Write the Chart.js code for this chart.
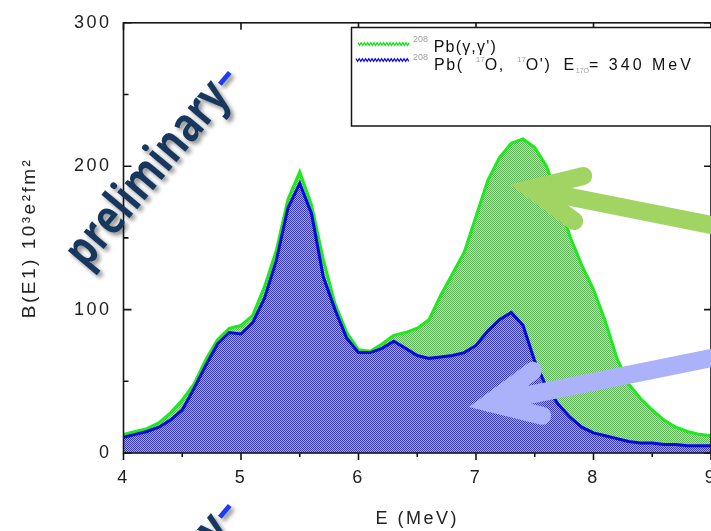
<!DOCTYPE html>
<html>
<head>
<meta charset="utf-8">
<script src="https://cdn.jsdelivr.net/npm/chart.js@4.4.1/dist/chart.umd.min.js"></script>
<style>
  html, body { margin: 0; padding: 0; background: #fff; overflow: hidden; }
  #wrap { width: 730px; height: 531px; }
</style>
</head>
<body>
<div id="wrap"><canvas id="strength"></canvas></div>
<script>
// excitation energy, MeV
var energies = [4.0, 4.1, 4.2, 4.3, 4.4, 4.5, 4.6, 4.7, 4.8, 4.9,
                5.0, 5.1, 5.2, 5.3, 5.4, 5.5, 5.6, 5.7, 5.8, 5.9,
                6.0, 6.1, 6.2, 6.3, 6.4, 6.5, 6.6, 6.7, 6.8, 6.9,
                7.0, 7.1, 7.2, 7.3, 7.4, 7.5, 7.6, 7.7, 7.8, 7.9,
                8.0, 8.1, 8.2, 8.3, 8.4, 8.5, 8.6, 8.7, 8.8, 8.9,
                9.0];
// B(E1), 10^3 e^2 fm^2 -- 208Pb(g,g')
var photonStrength = [13, 15, 17, 21, 28, 37, 48, 65, 79, 87,
                      89, 96, 116, 141, 177, 196, 173, 135, 104, 84,
                      72, 71, 76, 82, 84, 87, 93, 110, 125, 140,
                      165, 190, 206, 216, 219, 213, 200, 177, 151, 131,
                      114, 92, 66, 48, 38, 30, 23, 18, 15, 13,
                      12];
// B(E1), 10^3 e^2 fm^2 -- 208Pb(17O,17O') at 340 MeV
var oxygenStrength = [11, 13, 15, 18, 23, 30, 45, 61, 76, 84,
                      83, 91, 108, 134, 171, 188, 167, 123, 100, 80,
                      70, 70, 73, 78, 73, 68, 66, 67, 68, 70,
                      75, 85, 93, 98, 89, 64, 46, 34, 25, 18,
                      14, 12, 10, 8, 7, 7, 6, 6, 5, 5,
                      5];
var xTicks = [4, 5, 6, 7, 8, 9];
var xMinor = [4.5, 5.5, 6.5, 7.5, 8.5];
var yTicks = [0, 100, 200, 300];
var yMinor = [50, 150, 250];

var FONT = '"Liberation Sans", Arial, sans-serif';

function pairs(values) {
  return energies.map(function (e, i) { return { x: e, y: values[i] }; });
}

// 2x2 checker, the hatched fill of the original plot
function checker(dark, light) {
  var c = document.createElement('canvas');
  c.width = 2; c.height = 2;
  var g = c.getContext('2d');
  g.fillStyle = light; g.fillRect(0, 0, 2, 2);
  g.fillStyle = dark; g.fillRect(0, 0, 1, 1); g.fillRect(1, 1, 1, 1);
  return g.createPattern(c, 'repeat');
}

function drawRich(ctx, x, y, parts) {
  parts.forEach(function (p) {
    ctx.font = p.font;
    ctx.fillStyle = p.color;
    ctx.letterSpacing = p.ls || '0px';
    ctx.fillText(p.t, x, y + (p.dy || 0));
    x += ctx.measureText(p.t).width;
  });
}

function zigzag(ctx, x0, x1, y, color) {
  ctx.beginPath();
  for (var x = x0, k = 0; x <= x1; x += 1.6, k++) ctx.lineTo(x, y + (k % 2 ? 1.3 : -1.3));
  ctx.strokeStyle = color;
  ctx.lineWidth = 1.3;
  ctx.stroke();
}

function arrow(ctx, tipX, tipY, angle, color) {
  var w = 18, spread = 0.44, arm = 54;
  var back = (w / 2) / Math.sin(spread);
  var vx = tipX + Math.cos(angle) * back, vy = tipY + Math.sin(angle) * back;
  ctx.save();
  ctx.strokeStyle = color;
  ctx.lineWidth = w;
  ctx.lineCap = 'round';
  ctx.beginPath();
  ctx.moveTo(vx, vy);
  ctx.lineTo(vx + Math.cos(angle) * 400, vy + Math.sin(angle) * 400);
  ctx.stroke();
  ctx.lineJoin = 'miter';
  ctx.beginPath();
  ctx.moveTo(vx + Math.cos(angle - spread) * arm, vy + Math.sin(angle - spread) * arm);
  ctx.lineTo(vx, vy);
  ctx.lineTo(vx + Math.cos(angle + spread) * arm, vy + Math.sin(angle + spread) * arm);
  ctx.stroke();
  ctx.restore();
}

// rotated "preliminary-" watermark with a soft drop shadow
function stamp(ctx, x, y) {
  var squeeze = 0.8;
  ctx.save();
  ctx.translate(x, y);
  ctx.rotate(-50 * Math.PI / 180);
  ctx.scale(squeeze, 1);
  ctx.letterSpacing = '0px';
  ctx.font = 'bold 10px "Open Sans", sans-serif';
  var size = 10 * (226 / squeeze) / ctx.measureText('preliminary').width;
  ctx.font = 'bold ' + size.toFixed(1) + 'px "Open Sans", sans-serif';
  ctx.shadowColor = 'rgba(0,0,0,0.45)';
  ctx.shadowOffsetX = 3;
  ctx.shadowOffsetY = 3;
  ctx.shadowBlur = 4;
  ctx.fillStyle = '#17375e';
  ctx.fillText('preliminary', 0, 0);
  var w = ctx.measureText('preliminary').width;
  // hyphen in bright blue
  ctx.fillStyle = '#1f3cf5';
  ctx.fillRect(w + 3, -0.4 * size, 0.4 * size, 0.1 * size);
  ctx.restore();
}

var frame = {
  id: 'frame',
  beforeDraw: function (chart) {
    chart.ctx.letterSpacing = '2.5px';
  },
  afterDatasetsDraw: function (chart) {
    var ctx = chart.ctx, a = chart.chartArea, xs = chart.scales.x, ys = chart.scales.y;
    ctx.save();
    ctx.strokeStyle = '#161616';
    ctx.lineWidth = 1.6;
    ctx.strokeRect(a.left, a.top, a.right - a.left, a.bottom - a.top);
    ctx.beginPath();
    xTicks.forEach(function (v) {
      var px = xs.getPixelForValue(v);
      ctx.moveTo(px, a.bottom); ctx.lineTo(px, a.bottom + 7);
      ctx.moveTo(px, a.top); ctx.lineTo(px, a.top + 7);
    });
    xMinor.forEach(function (v) {
      var px = xs.getPixelForValue(v);
      ctx.moveTo(px, a.bottom); ctx.lineTo(px, a.bottom + 4);
    });
    yTicks.forEach(function (v) {
      var py = ys.getPixelForValue(v);
      ctx.moveTo(a.left, py); ctx.lineTo(a.left + 8, py);
      ctx.moveTo(a.right, py); ctx.lineTo(a.right - 7, py);
    });
    yMinor.forEach(function (v) {
      var py = ys.getPixelForValue(v);
      ctx.moveTo(a.left, py); ctx.lineTo(a.left + 5, py);
    });
    ctx.stroke();

    // arrows pointing at the two distributions
    arrow(ctx, xs.getPixelForValue(7.29), ys.getPixelForValue(187), 0.197, '#a1d463');
    arrow(ctx, xs.getPixelForValue(6.94), ys.getPixelForValue(32), -0.2, '#abb2fa');

    // legend box
    ctx.lineWidth = 1.5;
    ctx.fillStyle = '#fff';
    ctx.fillRect(351.5, 27.5, 400, 98.5);
    ctx.strokeRect(351.5, 27.5, 400, 98.5);
    zigzag(ctx, 358, 410, 44, '#10e010');
    zigzag(ctx, 356, 410, 60, '#1010d0');
    var main = '16px ' + FONT, sup = '9px ' + FONT, grey = '#a0a0a0';
    drawRich(ctx, 413, 52, [
      { t: '208', font: sup, color: grey, dy: -10 },
      { t: ' Pb(\u03b3,\u03b3\')', font: main, color: '#111', ls: '1.2px' }
    ]);
    drawRich(ctx, 413, 70, [
      { t: '208', font: sup, color: grey, dy: -10 },
      { t: ' Pb(  ', font: main, color: '#111', ls: '1.6px' },
      { t: '17', font: '8px ' + FONT, color: grey, dy: -8 },
      { t: 'O,  ', font: main, color: '#111', ls: '1.6px' },
      { t: '17', font: '8px ' + FONT, color: grey, dy: -8 },
      { t: 'O\')  E', font: main, color: '#111', ls: '1.6px' },
      { t: '17O', font: '7px ' + FONT, color: grey, dy: 3 },
      { t: '= 340 MeV', font: main, color: '#111', ls: '3px' }
    ]);
    ctx.restore();
  },
  afterDraw: function (chart) {
    var ctx = chart.ctx;
    stamp(ctx, 86, 270);
    stamp(ctx, 86, 703);
  }
};

new Chart(document.getElementById('strength'), {
  type: 'line',
  data: {
    datasets: [
      {
        label: '208Pb(17O,17O\') E17O = 340 MeV',
        data: pairs(oxygenStrength),
        order: 1,
        borderColor: '#0808e0',
        borderWidth: 3,
        backgroundColor: checker('#3a3ab4', '#a8a8e0'),
        fill: 'origin',
        pointRadius: 0,
        tension: 0
      },
      {
        label: '208Pb(\u03b3,\u03b3\')',
        data: pairs(photonStrength),
        order: 2,
        borderColor: '#1ee81e',
        borderWidth: 3,
        backgroundColor: checker('#62b45a', '#b8deb0'),
        fill: 'origin',
        pointRadius: 0,
        tension: 0
      }
    ]
  },
  options: {
    responsive: true,
    maintainAspectRatio: false,
    animation: false,
    layout: { padding: { top: 20, right: 15.5, left: 0, bottom: 0 } },
    plugins: { legend: { display: false }, tooltip: { enabled: false } },
    scales: {
      x: {
        type: 'linear',
        min: 4,
        max: 9,
        afterBuildTicks: function (s) { s.ticks = xTicks.map(function (v) { return { value: v }; }); },
        afterFit: function (s) { s.height = 78; },
        grid: { display: false, drawTicks: false },
        border: { display: false },
        ticks: { padding: 14, color: '#222', font: { family: FONT, size: 18 } },
        title: { display: true, text: 'E (MeV)', color: '#222', font: { family: FONT, size: 18 }, padding: { top: 0, bottom: 1 } }
      },
      y: {
        min: 0,
        max: 300,
        afterBuildTicks: function (s) { s.ticks = yTicks.map(function (v) { return { value: v }; }); },
        afterFit: function (s) { s.width = 123.5; },
        grid: { display: false, drawTicks: false },
        border: { display: false },
        ticks: { padding: 12, color: '#222', font: { family: FONT, size: 18 } },
        title: { display: true, text: 'B(E1) 10\u00b3e\u00b2fm\u00b2', color: '#222', font: { family: FONT, size: 19 }, padding: { top: 18, bottom: 0 } }
      }
    }
  },
  plugins: [frame]
});
</script>
</body>
</html>
